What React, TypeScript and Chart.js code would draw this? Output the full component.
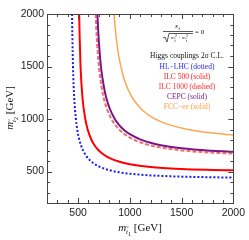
import React, { useEffect, useRef } from "react";
import { Chart, registerables } from "chart.js";

Chart.register(...registerables);

// Axis ranges and tick labels
const axisMin = 200;
const axisMax = 2000;
const majorTicks = [500, 1000, 1500, 2000];
const minorStep = 100;

// HL-LHC (dotted)
const hlLhcX = [442, 445, 451, 463, 479, 492, 513, 549, 578, 611, 650, 700, 800, 900, 1000, 1200, 1500, 1800, 2000];
const hlLhcY = [2000, 1800, 1500, 1200, 1000, 900, 800, 700, 650, 611, 578, 549, 513, 492, 479, 463, 451, 445, 442];
// ILC 500 (solid)
const ilc500X = [511, 515, 524, 543, 570, 593, 630, 659, 700, 750, 800, 900, 1000, 1200, 1500, 1800, 2000];
const ilc500Y = [2000, 1800, 1500, 1200, 1000, 900, 800, 750, 700, 659, 630, 593, 570, 543, 524, 515, 511];
// ILC 1000 (dashed)
const ilc1000X = [670, 679, 701, 728, 748, 778, 822, 854, 898, 950, 1000, 1100, 1200, 1300, 1500, 1800, 2000];
const ilc1000Y = [2000, 1800, 1500, 1300, 1200, 1100, 1000, 950, 898, 854, 822, 778, 748, 728, 701, 679, 670];
// CEPC (solid)
const cepcX = [687, 697, 721, 751, 773, 806, 855, 891, 919, 950, 1000, 1100, 1200, 1300, 1500, 1800, 2000];
const cepcY = [2000, 1800, 1500, 1300, 1200, 1100, 1000, 950, 919, 891, 855, 806, 773, 751, 721, 697, 687];
// FCC-ee (solid)
const fccX = [847, 866, 893, 939, 975, 1026, 1062, 1103, 1150, 1200, 1300, 1400, 1600, 1800, 2000];
const fccY = [2000, 1800, 1600, 1400, 1300, 1200, 1150, 1103, 1062, 1026, 975, 939, 893, 866, 847];

const legendLines = [
  { text: "HL\u2212LHC (dotted)", color: "#1f1fff" },
  { text: "ILC 500 (solid)", color: "#ff1a1a" },
  { text: "ILC 1000 (dashed)", color: "#ff2a2a" },
  { text: "CEPC (solid)", color: "#7d1a8c" },
  { text: "FCC\u2212ee (solid)", color: "#ffa040" },
];

const zip = (xs: number[], ys: number[]) => xs.map((x, i) => ({ x, y: ys[i] }));

const SERIF = "'Liberation Serif', 'DejaVu Serif', serif";
const SANS = "'Liberation Sans', Arial, sans-serif";

function drawMLabel(ctx: CanvasRenderingContext2D, idx: string, cx: number, cy: number) {
  const f1 = `italic 11px ${SERIF}`;
  const f2 = `italic 7px ${SERIF}`;
  const f3 = `6px ${SERIF}`;
  const f4 = `11px ${SERIF}`;
  ctx.font = f1; const w1 = ctx.measureText("m").width;
  ctx.font = f2; const w2 = ctx.measureText("t").width;
  ctx.font = f3; const w3 = ctx.measureText(idx).width;
  ctx.font = f4; const w4 = ctx.measureText(" [GeV]").width;
  const total = w1 + w2 + w3 + w4;
  let x = cx - total / 2;
  ctx.textAlign = "left";
  ctx.textBaseline = "alphabetic";
  ctx.font = f1; ctx.fillText("m", x, cy); x += w1;
  ctx.font = f2; ctx.fillText("t", x, cy + 3);
  ctx.font = `6px ${SERIF}`; ctx.fillText("~", x - 0.5, cy - 2);
  x += w2;
  ctx.font = f3; ctx.fillText(idx, x, cy + 5); x += w3;
  ctx.font = f4; ctx.fillText(" [GeV]", x, cy);
}

const decorPlugin = {
  id: "decor",
  afterDatasetsDraw(chart: any) {
    const { ctx, chartArea, scales } = chart;
    const xs = scales.x, ys = scales.y;
    const { left, right, top, bottom } = chartArea;
    ctx.save();
    ctx.strokeStyle = "#444";
    ctx.lineWidth = 1;
    ctx.strokeRect(Math.round(left) + 0.5, Math.round(top) + 0.5, Math.round(right - left), Math.round(bottom - top));
    ctx.beginPath();
    for (let v = axisMin; v <= axisMax; v += minorStep) {
      if (v === axisMin || v === axisMax) continue;
      const len = v % 500 === 0 ? 5 : 3;
      const px = Math.round(xs.getPixelForValue(v)) + 0.5;
      ctx.moveTo(px, bottom); ctx.lineTo(px, bottom - len);
      ctx.moveTo(px, top); ctx.lineTo(px, top + len);
      const py = Math.round(ys.getPixelForValue(v)) + 0.5;
      ctx.moveTo(left, py); ctx.lineTo(left + len, py);
      ctx.moveTo(right, py); ctx.lineTo(right - len, py);
    }
    ctx.stroke();

    ctx.fillStyle = "#111";
    drawMLabel(ctx, "1", 140, 231);
    ctx.save();
    ctx.translate(13, 108);
    ctx.rotate(-Math.PI / 2);
    drawMLabel(ctx, "2", 0, 0);
    ctx.restore();

    // formula
    ctx.fillStyle = "#111";
    ctx.textAlign = "left";
    ctx.font = `italic 7px ${SERIF}`;
    ctx.fillText("x", 175, 28);
    ctx.font = `italic 5px ${SERIF}`;
    ctx.fillText("t", 178.5, 29.5);
    ctx.strokeStyle = "#111";
    ctx.lineWidth = 0.7;
    ctx.beginPath();
    ctx.moveTo(163, 31.5); ctx.lineTo(193, 31.5);
    ctx.stroke();
    ctx.beginPath();
    ctx.moveTo(163, 38); ctx.lineTo(165, 37); ctx.lineTo(167, 42); ctx.lineTo(169, 33.5); ctx.lineTo(193, 33.5);
    ctx.stroke();
    ctx.font = `italic 5px ${SERIF}`;
    ctx.fillText("m", 171, 38.5);
    ctx.font = `4px ${SERIF}`;
    ctx.fillText("2", 175, 36.5);
    ctx.fillText("t\u0303", 174.5, 41.5);
    ctx.font = `5px ${SERIF}`;
    ctx.fillText("+", 178.5, 38.5);
    ctx.font = `italic 5px ${SERIF}`;
    ctx.fillText("m", 182, 38.5);
    ctx.font = `4px ${SERIF}`;
    ctx.fillText("2", 186, 36.5);
    ctx.fillText("t\u0303", 186, 41.5);
    ctx.font = `7px ${SERIF}`;
    ctx.fillText("= 0", 195, 34);

    ctx.textAlign = "center";
    ctx.font = `7.5px ${SERIF}`;
    ctx.fillStyle = "#111";
    ctx.fillText("Higgs couplings 2\u03c3 C.L.", 187, 58);
    legendLines.forEach((l, i) => {
      ctx.fillStyle = l.color;
      ctx.fillText(l.text, 187, 68.5 + i * 10.2);
    });
    ctx.restore();
  },
};

export default function App() {
  const ref = useRef<HTMLCanvasElement | null>(null);
  useEffect(() => {
    if (!ref.current) return;
    const common = { showLine: true, pointRadius: 0, fill: false, cubicInterpolationMode: "monotone" as const };
    const chart = new Chart(ref.current, {
      type: "scatter",
      data: {
        datasets: [
          { ...common, label: "FCC-ee", data: zip(fccX, fccY), borderColor: "#ffa54f", borderWidth: 1.5 },
          { ...common, label: "CEPC", data: zip(cepcX, cepcY), borderColor: "#7a1488", borderWidth: 2 },
          { ...common, label: "ILC 1000", data: zip(ilc1000X, ilc1000Y), borderColor: "#f07070", borderWidth: 2, borderDash: [4, 2] },
          { ...common, label: "ILC 500", data: zip(ilc500X, ilc500Y), borderColor: "#ff0000", borderWidth: 2 },
          { ...common, label: "HL-LHC", data: zip(hlLhcX, hlLhcY), borderColor: "#1a1aff", borderWidth: 2, borderDash: [2, 2] },
        ],
      },
      options: {
        responsive: false,
        animation: false,
        layout: { padding: { top: 14, right: 12, left: 0, bottom: 0 } },
        plugins: { legend: { display: false }, tooltip: { enabled: false } },
        scales: {
          x: {
            type: "linear",
            min: axisMin,
            max: axisMax,
            grid: { display: false, drawTicks: false },
            border: { display: false },
            afterFit: (s: any) => { s.height = 37; },
            afterBuildTicks: (s: any) => { s.ticks = majorTicks.map((v) => ({ value: v })); },
            ticks: { padding: 4, color: "#222", font: { family: SANS, size: 10.5 }, maxRotation: 0, autoSkip: false, callback: (v: any) => String(v) },
          },
          y: {
            type: "linear",
            min: axisMin,
            max: axisMax,
            grid: { display: false, drawTicks: false },
            border: { display: false },
            afterFit: (s: any) => { s.width = 47; },
            afterBuildTicks: (s: any) => { s.ticks = majorTicks.map((v) => ({ value: v })); },
            ticks: { padding: 3, color: "#222", font: { family: SANS, size: 10.5 }, autoSkip: false, callback: (v: any) => String(v) },
          },
        },
      },
      plugins: [decorPlugin],
    });
    return () => chart.destroy();
  }, []);
  return (
    <div style={{ position: "fixed", left: 0, top: 0, width: 249, height: 240, background: "#fff" }}>
      <canvas ref={ref} width={249} height={240} style={{ display: "block", width: 249, height: 240 }} />
    </div>
  );
}
